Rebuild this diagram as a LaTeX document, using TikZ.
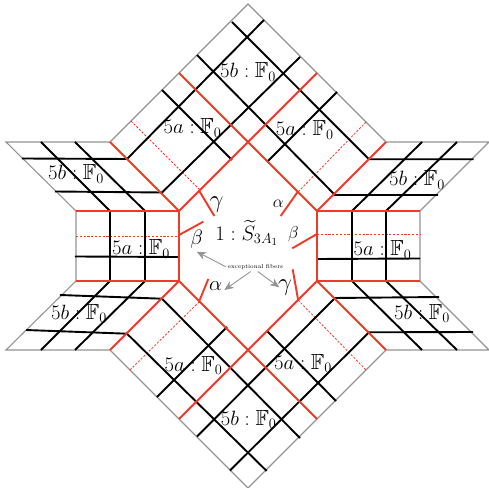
\documentclass[tikz,border=0pt]{standalone}
\usepackage{amsmath,amssymb}
\usetikzlibrary{arrows.meta}
\definecolor{fibred}{RGB}{238,58,38}
\tikzset{
  outline/.style={draw=black!42,line width=1.1bp},
  redline/.style={draw=fibred,line width=1.9bp},
  reddash/.style={draw=fibred,line width=0.8bp,dashed,dash pattern=on 2.2bp off 1.6bp},
  blackline/.style={draw=black,line width=1.9bp},
  surf/.style={inner sep=0pt,font=\fontsize{22}{24}\selectfont},
  fiblabel/.style={inner sep=0pt,font=\fontsize{#1}{24}\selectfont},
  fibarrow/.style={draw=black!42,line width=0.9bp,-{Stealth[length=9.5bp,width=8bp]}}
}
\begin{document}
\begin{tikzpicture}[x=1bp,y=1bp]
  \useasboundingbox (-248,-242) rectangle (241,246);
  % Geometry
  \def\xA{69}
  \def\yA{35}
  \def\yT{104}
  \def\xB{138}
  \def\xC{172}
  \def\yB{173}
  % Outer boundary
  \draw[outline] (-242,\yT) -- (-\xB,\yT) -- (0,242) -- (\xB,\yT) -- (241,\yT) -- (\xC,\yA)
    -- (\xC,-\yA) -- (241,-\yT) -- (\xB,-\yT) -- (0,-242) -- (-\xB,-\yT) -- (-242,-\yT)
    -- (-\xC,-\yA) -- (-\xC,\yA) -- cycle;
  % Red dashed fibers
  \draw[reddash] (-117,125) -- (-48,56);
  \draw[reddash] (118,124) -- (50,54);
  \draw[reddash] (-\xC,10) -- (-\xA,10);
  \draw[reddash] (\xA,12) -- (\xC,12);
  \draw[reddash] (-118,-124) -- (-48,-55);
  \draw[reddash] (50,-54) -- (118,-124);
  % Black rulings, left and right
  \draw[blackline] (-207,\yT) -- (-\xB,\yA) -- (-\xB,-\yA) -- (-207,-\yT);
  \draw[blackline] (-173,\yT) -- (-103,\yA) -- (-103,-\yA) -- (-173,-\yT);
  \draw[blackline] (174,\yT) -- (104,\yA) -- (104,-\yA) -- (174,-\yT);
  \draw[blackline] (209,\yT) -- (\xB,\yA) -- (\xB,-\yA) -- (209,-\yT);
  \draw[blackline] (-173,-10.5) -- (-\xA,-11);
  \draw[blackline] (\xA,-13) -- (\xC,-12.5);
  % Black rulings, top
  \draw[blackline] (-226,87.5) -- (-121,87) -- (16,226);
  \draw[blackline] (-193,54.5) -- (-86,53.5) -- (52,189);
  \draw[blackline] (225.5,86.7) -- (121,86.7) -- (-16,224);
  \draw[blackline] (190,51) -- (87,51) -- (-51,191);
  \draw[blackline] (-86,156) -- (-16,86);
  \draw[blackline] (89,154) -- (19,84);
  % Black rulings, bottom
  \draw[blackline] (-188,-49) -- (-86,-52.7) -- (52,-192);
  \draw[blackline] (-222,-84) -- (-121,-87.7) -- (18.7,-225);
  \draw[blackline] (191,-51) -- (87,-52) -- (-51,-190.5);
  \draw[blackline] (225,-86) -- (121,-86.3) -- (-18,-224.5);
  \draw[blackline] (-21,-81) -- (-91,-151);
  \draw[blackline] (19,-85) -- (88,-155);
  % Red curves
  \draw[redline] (-\xB,\yT) -- (-\xA,\yA) -- (0,\yT) -- (\xA,\yA) -- (\xB,\yT);
  \draw[redline] (-\xB,-\yT) -- (-\xA,-\yA) -- (0,-\yT) -- (\xA,-\yA) -- (\xB,-\yT);
  \draw[redline] (-\xC,\yA) -- (-\xA,\yA) -- (-\xA,-\yA) -- (-\xC,-\yA);
  \draw[redline] (\xC,\yA) -- (\xA,\yA) -- (\xA,-\yA) -- (\xC,-\yA);
  \draw[redline] (-\xA,\yB) -- (0,\yT) -- (\xA,\yB);
  \draw[redline] (-\xA,-\yB) -- (0,-\yT) -- (\xA,-\yB);
  % Exceptional fibers
  \draw[redline] (-48.7,55) -- (-33.7,30);
  \draw[redline] (-\xA,11) -- (-44.7,24.3);
  \draw[redline] (-48.7,-55) -- (-39.7,-33);
  \draw[redline] (50.3,55) -- (32.7,30);
  \draw[redline] (\xA,12) -- (44.3,-2.3);
  \draw[redline] (50.3,-55) -- (44.7,-23.3);
  % Labels
  \node[surf] (top5b) at (0,174) {$5b:\mathbb{F}_0$};
  \node[surf] (tl5a) at (-55.5,118) {$5a:\mathbb{F}_0$};
  \node[surf] (tr5a) at (56.7,116) {$5a:\mathbb{F}_0$};
  \node[surf] (lt5b) at (-172,72) {$5b:\mathbb{F}_0$};
  \node[surf] (rt5b) at (169,66) {$5b:\mathbb{F}_0$};
  \node[surf] (l5a) at (-107,-3) {$5a:\mathbb{F}_0$};
  \node[surf] (r5a) at (134.5,-4) {$5a:\mathbb{F}_0$};
  \node[surf] (lb5b) at (-169,-67.7) {$5b:\mathbb{F}_0$};
  \node[surf] (rb5b) at (174,-67.7) {$5b:\mathbb{F}_0$};
  \node[surf] (bl5a) at (-54.5,-119.7) {$5a:\mathbb{F}_0$};
  \node[surf] (br5a) at (55,-117.7) {$5a:\mathbb{F}_0$};
  \node[surf] (bot5b) at (0.7,-173) {$5b:\mathbb{F}_0$};
  \node[fiblabel=21] (centre) at (-1.3,13) {$1:\widetilde{S}_{3A_1}$};
  \node[fiblabel=25] (gammaA) at (-31.3,41) {$\gamma$};
  \node[fiblabel=18] (alphaA) at (30.3,42.7) {$\alpha$};
  \node[fiblabel=22] (betaA) at (-51.3,7) {$\beta$};
  \node[fiblabel=19] (betaB) at (45.3,12) {$\beta$};
  \node[fiblabel=21] (alphaB) at (-32.3,-40) {$\alpha$};
  \node[fiblabel=25] (gammaB) at (37,-42) {$\gamma$};
  \node[inner sep=2pt,font=\fontsize{5.9}{8}\selectfont] (fib) at (7.5,-20.7) {exceptional fibers};
  % Arrows to the fibers
  \coordinate (tipA) at (-51.3,-5.7);
  \coordinate (tipB) at (-23.7,-44);
  \coordinate (tipC) at (31.3,-41.3);
  \draw[fibarrow] (fib.west) -- (tipA);
  \draw[fibarrow] (fib.225) -- (tipB);
  \draw[fibarrow] (fib.295) -- (tipC);
\end{tikzpicture}
\end{document}
